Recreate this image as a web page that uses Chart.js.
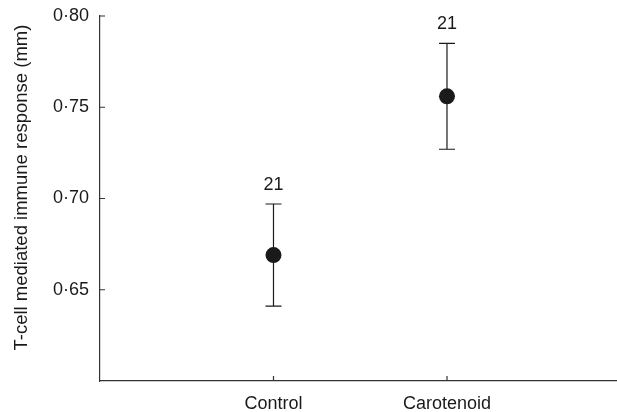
<!DOCTYPE html>
<html>
<head>
<meta charset="UTF-8">
<title>T-cell response</title>
<style>
  html, body { margin: 0; padding: 0; background: #fff; overflow: hidden; }
  .chartBox { position: absolute; left: 0; top: 0; width: 617px; height: 412px; }
</style>
</head>
<body>
<div class="chartBox">
  <canvas id="myChart"></canvas>
</div>
<script src="https://cdn.jsdelivr.net/npm/chart.js"></script>
<script>
// data
const categories = ['Control', 'Carotenoid'];
const means = [0.669, 0.756];
const lower = [0.641, 0.727];
const upper = [0.697, 0.785];
const sampleSizes = [21, 21];
const yTicks = [0.65, 0.70, 0.75, 0.80];
const yTitle = 'T-cell mediated immune response (mm)';

const ink = '#1a1a1a';
const fontFamily = '"Liberation Sans", Arial, Helvetica, sans-serif';

function fmt(v) {
  return v.toFixed(2).replace('.', '\u00B7');
}

// error bars, inward tick marks, n labels and the y title
const extras = {
  id: 'extras',
  beforeDatasetsDraw(chart) {
    const ctx = chart.ctx;
    const x = chart.scales.x, y = chart.scales.y;
    ctx.save();
    ctx.strokeStyle = ink;
    ctx.lineWidth = 1.2;
    categories.forEach((c, i) => {
      const px = x.getPixelForValue(i + 1);
      const top = y.getPixelForValue(upper[i]);
      const bot = y.getPixelForValue(lower[i]);
      ctx.beginPath();
      ctx.moveTo(px, top); ctx.lineTo(px, bot);
      ctx.moveTo(px - 8, top); ctx.lineTo(px + 8, top);
      ctx.moveTo(px - 8, bot); ctx.lineTo(px + 8, bot);
      ctx.stroke();
    });
    ctx.restore();
  },
  afterDatasetsDraw(chart) {
    const ctx = chart.ctx;
    const x = chart.scales.x, y = chart.scales.y;
    const area = chart.chartArea;
    ctx.save();
    ctx.strokeStyle = '#333';
    ctx.lineWidth = 1.2;
    ctx.beginPath();
    yTicks.forEach(v => {
      const py = y.getPixelForValue(v);
      ctx.moveTo(area.left, py); ctx.lineTo(area.left + 5, py);
    });
    categories.forEach((c, i) => {
      const px = x.getPixelForValue(i + 1);
      ctx.moveTo(px, area.bottom); ctx.lineTo(px, area.bottom - 5);
    });
    ctx.stroke();

    ctx.fillStyle = ink;
    ctx.font = '18px ' + fontFamily;
    ctx.textAlign = 'center';
    ctx.textBaseline = 'middle';
    categories.forEach((c, i) => {
      const px = x.getPixelForValue(i + 1);
      const top = y.getPixelForValue(upper[i]);
      ctx.fillText(String(sampleSizes[i]), px, top - 19);
    });

    // y title, a bit above the middle of the axis as in the figure
    ctx.translate(22, area.top + (area.bottom - area.top) * 0.47);
    ctx.rotate(-Math.PI / 2);
    ctx.font = '18.5px ' + fontFamily;
    ctx.fillText(yTitle, 0, 0);
    ctx.restore();
  }
};

const data = {
  datasets: [{
    data: categories.map((c, i) => ({ x: i + 1, y: means[i] })),
    pointRadius: 8,
    pointHoverRadius: 8,
    backgroundColor: ink,
    borderWidth: 0
  }]
};

const config = {
  type: 'scatter',
  data,
  options: {
    responsive: true,
    maintainAspectRatio: false,
    animation: false,
    layout: { autoPadding: false, padding: { top: 16, right: 0, bottom: 0, left: 0 } },
    plugins: {
      legend: { display: false },
      tooltip: { enabled: false }
    },
    scales: {
      x: {
        type: 'linear',
        min: 0,
        max: 2.98,
        grid: { display: false, drawTicks: false },
        border: { display: true, color: '#333', width: 1.2 },
        afterBuildTicks: s => { s.ticks = categories.map((c, i) => ({ value: i + 1 })); },
        afterFit: s => { s.height = 31; s.paddingLeft = 0; s.paddingRight = 0; },
        ticks: {
          padding: 12,
          color: ink,
          font: { family: fontFamily, size: 18 },
          callback: v => categories[v - 1]
        }
      },
      y: {
        min: 0.60,
        max: 0.80,
        grid: { display: false, drawTicks: false },
        border: { display: true, color: '#333', width: 1.2 },
        afterBuildTicks: s => { s.ticks = yTicks.map(v => ({ value: v })); },
        afterFit: s => { s.width = 100; s.paddingTop = 0; s.paddingBottom = 0; },
        ticks: {
          padding: 11,
          color: ink,
          font: { family: fontFamily, size: 18 },
          callback: v => fmt(v)
        }
      }
    }
  },
  plugins: [extras]
};

const myChart = new Chart(document.getElementById('myChart'), config);
</script>
</body>
</html>
